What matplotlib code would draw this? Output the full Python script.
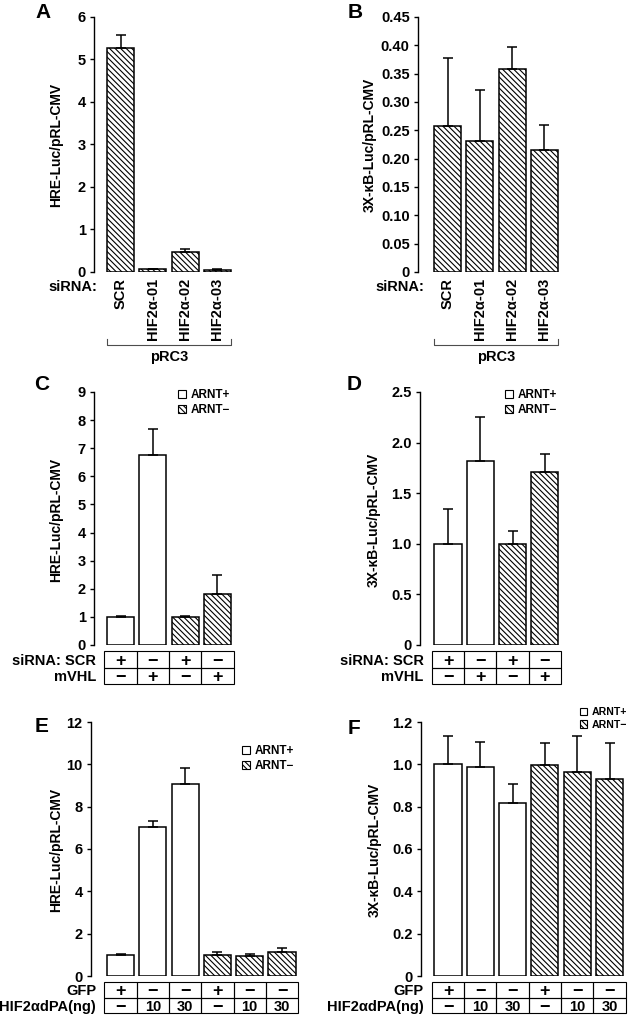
import numpy as np
import matplotlib
matplotlib.use('Agg')
import matplotlib.pyplot as plt
from matplotlib.patches import Patch, Rectangle

plt.rcParams['font.family'] = ['Liberation Sans', 'DejaVu Sans']
plt.rcParams['font.weight'] = 'bold'
plt.rcParams['hatch.linewidth'] = 0.8

W, H = 628, 1017
STEP = 32.3          # px per bar slot
HATCH = '\\' * 6

# --- data ---
sirna_labels = ['SCR', 'HIF2α-01', 'HIF2α-02', 'HIF2α-03']

A_vals = [5.28, 0.08, 0.48, 0.05]
A_err = [0.29, 0.0, 0.06, 0.02]
A_hatch = [True, True, True, True]

B_vals = [0.257, 0.232, 0.358, 0.216]
B_err = [0.121, 0.089, 0.039, 0.044]
B_hatch = [True, True, True, True]

C_vals = [0.98, 6.75, 0.98, 1.81]
C_err = [0.04, 0.93, 0.04, 0.69]
D_vals = [1.0, 1.82, 1.0, 1.71]
D_err = [0.34, 0.43, 0.125, 0.18]
CD_hatch = [False, False, True, True]
CD_row_labels = ['siRNA: SCR', 'mVHL']
CD_row1 = ['+', '−', '+', '−']
CD_row2 = ['−', '+', '−', '+']

E_vals = [0.98, 7.04, 9.08, 0.98, 0.96, 1.14]
E_err = [0.08, 0.30, 0.75, 0.16, 0.07, 0.20]
F_vals = [1.0, 0.987, 0.817, 0.995, 0.962, 0.932]
F_err = [0.134, 0.12, 0.089, 0.105, 0.17, 0.167]
EF_hatch = [False, False, False, True, True, True]
EF_row_labels = ['GFP', 'HIF2αdPA(ng)']
EF_row1 = ['+', '−', '−', '+', '−', '−']
EF_row2 = ['−', '10', '30', '−', '10', '30']

A_ticks = [0, 1, 2, 3, 4, 5, 6]
A_ticklabels = ['0', '1', '2', '3', '4', '5', '6']
B_ticks = [0, 0.05, 0.10, 0.15, 0.20, 0.25, 0.30, 0.35, 0.40, 0.45]
B_ticklabels = ['0', '0.05', '0.10', '0.15', '0.20', '0.25', '0.30', '0.35', '0.40', '0.45']
C_ticks = [0, 1, 2, 3, 4, 5, 6, 7, 8, 9]
C_ticklabels = ['0', '1', '2', '3', '4', '5', '6', '7', '8', '9']
D_ticks = [0, 0.5, 1.0, 1.5, 2.0, 2.5]
D_ticklabels = ['0', '0.5', '1.0', '1.5', '2.0', '2.5']
E_ticks = [0, 2, 4, 6, 8, 10, 12]
E_ticklabels = ['0', '2', '4', '6', '8', '10', '12']
F_ticks = [0, 0.2, 0.4, 0.6, 0.8, 1.0, 1.2]
F_ticklabels = ['0', '0.2', '0.4', '0.6', '0.8', '1.0', '1.2']

fig = plt.figure(figsize=(W / 100, H / 100), dpi=100)


def make_axes(axis_px, first_px, n, top, bottom):
    x0 = -(first_px - axis_px) / STEP
    x1 = n - 0.5
    right = first_px + x1 * STEP
    ax = fig.add_axes([axis_px / W, 1 - bottom / H, (right - axis_px) / W, (bottom - top) / H])
    ax.set_xlim(x0, x1)
    return ax


def bars(ax, vals, errs, hatched, ticks, ticklabels):
    x = np.arange(len(vals))
    for i in x:
        ax.bar(i, vals[i], width=0.84, color='white', edgecolor='black', linewidth=1.1,
               hatch=HATCH if hatched[i] else None)
    ax.errorbar(x, vals, yerr=[np.zeros(len(vals)), errs], fmt='none', ecolor='black',
                elinewidth=1.1, capsize=3.5, capthick=1.1)
    ax.set_ylim(0, ticks[-1])
    ax.set_yticks(ticks)
    ax.set_yticklabels(ticklabels, fontweight='bold')
    for s in ['top', 'right', 'bottom']:
        ax.spines[s].set_visible(False)
    ax.spines['left'].set_linewidth(1)
    ax.tick_params(axis='y', length=3, width=1, labelsize=10.5, pad=3)
    ax.set_xticks([])


def table(ax_main, rows, labels, top, bottom):
    pos = ax_main.get_position()
    tax = fig.add_axes([pos.x0, 1 - bottom / H, pos.width, (bottom - top) / H])
    tax.set_xlim(ax_main.get_xlim())
    tax.set_ylim(0, len(rows))
    tax.axis('off')
    for r, row in enumerate(rows):
        y = len(rows) - 1 - r
        for i, s in enumerate(row):
            tax.add_patch(Rectangle((i - 0.5, y), 1, 1, fill=False, lw=0.8,
                                    edgecolor='black', clip_on=False))
            fs = 13 if s in ('+', '−') else 10.5
            tax.text(i, y + 0.5, s, ha='center', va='center_baseline', fontsize=fs,
                     fontweight='bold')
        tax.annotate(labels[r], xy=(-0.5, y + 0.5), xytext=(-6, 0), textcoords='offset points',
                     ha='right', va='center_baseline', fontsize=10.5, fontweight='bold',
                     annotation_clip=False)


def legend(x_px, y_px, fs=8.5):
    handles = [Patch(facecolor='white', edgecolor='black', lw=0.8, label='ARNT+'),
               Patch(facecolor='white', edgecolor='black', lw=0.8, hatch=HATCH, label='ARNT−')]
    fig.legend(handles=handles, loc='upper left', bbox_to_anchor=(x_px / W, 1 - y_px / H),
               frameon=False, prop={'size': fs, 'weight': 'bold'}, handlelength=0.7,
               handleheight=0.7, handletextpad=0.4, labelspacing=0.25, borderpad=0,
               borderaxespad=0)


def bracket(ax, text, n, top, bottom):
    tr = ax.get_xaxis_transform()
    h = bottom - top
    yb = (bottom - 345) / h
    yt = (bottom - 339) / h
    ax.plot([-0.42, -0.42, n - 1 + 0.42, n - 1 + 0.42], [yt, yb, yb, yt], transform=tr,
            color='0.3', lw=0.8, clip_on=False)
    ax.text((n - 1) / 2, (bottom - 357) / h, text, transform=tr, ha='center', va='center',
            fontsize=10.5, fontweight='bold')


ylab_hre = 'HRE-Luc/pRL-CMV'
ylab_kb = '3X-κB-Luc/pRL-CMV'

# --- A ---
axA = make_axes(94, 120.5, 4, 17, 272)
bars(axA, A_vals, A_err, A_hatch, A_ticks, A_ticklabels)
axA.set_xticks(range(4))
axA.set_xticklabels(sirna_labels, rotation=90, fontsize=10.5, fontweight='bold')
axA.tick_params(axis='x', length=0, pad=4.5)
bracket(axA, 'pRC3', 4, 17, 272)
fig.text(97 / W, 1 - 287 / H, 'siRNA:', ha='right', va='center', fontsize=10.5, fontweight='bold')

# --- B ---
axB = make_axes(418, 447.5, 4, 17, 272)
bars(axB, B_vals, B_err, B_hatch, B_ticks, B_ticklabels)
axB.set_xticks(range(4))
axB.set_xticklabels(sirna_labels, rotation=90, fontsize=10.5, fontweight='bold')
axB.tick_params(axis='x', length=0, pad=4.5)
bracket(axB, 'pRC3', 4, 17, 272)
fig.text(424 / W, 1 - 287 / H, 'siRNA:', ha='right', va='center', fontsize=10.5, fontweight='bold')

# --- C ---
axC = make_axes(94, 120.5, 4, 392, 645)
bars(axC, C_vals, C_err, CD_hatch, C_ticks, C_ticklabels)
table(axC, [CD_row1, CD_row2], CD_row_labels, 651, 684)
legend(178, 389)

# --- D ---
axD = make_axes(420, 448, 4, 392, 645)
bars(axD, D_vals, D_err, CD_hatch, D_ticks, D_ticklabels)
table(axD, [CD_row1, CD_row2], CD_row_labels, 651, 684)
legend(505, 389)

# --- E ---
axE = make_axes(91, 120.5, 6, 722, 976)
bars(axE, E_vals, E_err, EF_hatch, E_ticks, E_ticklabels)
table(axE, [EF_row1, EF_row2], EF_row_labels, 982, 1013)
legend(242, 745)

# --- F ---
axF = make_axes(421, 448, 6, 722, 976)
bars(axF, F_vals, F_err, EF_hatch, F_ticks, F_ticklabels)
table(axF, [EF_row1, EF_row2], EF_row_labels, 982, 1013)
legend(580, 707, fs=7.6)

# y labels
for x_px, y_px, lab in [(56, 145, ylab_hre), (370, 145, ylab_kb), (56, 520, ylab_hre),
                        (374, 520, ylab_kb), (56, 850, ylab_hre), (375, 850, ylab_kb)]:
    fig.text(x_px / W, 1 - y_px / H, lab, rotation=90, ha='center', va='center', fontsize=10,
             fontweight='bold')

# panel letters
for x_px, y_px, s in [(43, 12, 'A'), (355, 12, 'B'), (42, 385, 'C'), (354, 385, 'D'),
                      (42, 726, 'E'), (354, 729, 'F')]:
    fig.text(x_px / W, 1 - y_px / H, s, ha='center', va='center', fontsize=15, fontweight='bold')

fig.savefig('out.png', dpi=100)
